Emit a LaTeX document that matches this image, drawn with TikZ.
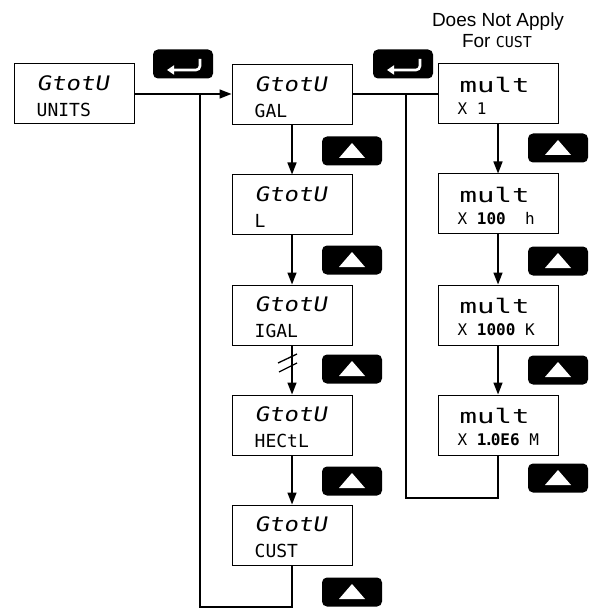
\documentclass[tikz,border=0pt]{standalone}
\usepackage{fontspec}
\setmainfont{Liberation Sans}
\newfontfamily\lcdA[FakeStretch=1.2,FakeSlant=0.18]{DejaVu Sans Mono}
\newfontfamily\lcdM[FakeStretch=1.45]{DejaVu Sans Mono}
\newfontfamily\lcdB{DejaVu Sans Mono}
\usetikzlibrary{arrows.meta}
\tikzset{
  lcd/.style={draw, line width=1pt, minimum width=120pt, minimum height=60pt, inner sep=0pt, fill=white},
  lcdtop/.style={anchor=base west, inner sep=0pt, font=\lcdA\fontsize{20}{20}\selectfont},
  lcdbot/.style={anchor=base west, inner sep=0pt, font=\lcdB\fontsize{18}{18}\selectfont},
  multtop/.style={anchor=base west, inner sep=0pt, font=\lcdM\fontsize{20}{20}\selectfont},
  multbot/.style={anchor=base west, inner sep=0pt, font=\lcdB\fontsize{16}{16}\selectfont},
  flow/.style={line width=1.6pt},
  arr/.style={flow, -{Triangle[length=12pt,width=9pt]}},
  keybtn/.style={fill=black, rounded corners=5pt, minimum width=60pt, minimum height=29pt, inner sep=0pt},
  note/.style={inner sep=0pt, anchor=base, font=\fontsize{19}{19}\selectfont},
}
\newcommand{\lcdbox}[5]{%
  \node[lcd] (#1) at (#2,#3) {};
  \node[lcdtop] (#1-a) at ([shift={(23,27)}]#1.north west) {#4};
  \node[lcdbot] (#1-b) at ([shift={(23,53)}]#1.north west) {#5};
}
\newcommand{\multbox}[5]{%
  \node[lcd] (#1) at (#2,#3) {};
  \node[multtop] (#1-a) at ([shift={(22,29)}]#1.north west) {#4};
  \node[multbot] (#1-b) at ([shift={(20,51)}]#1.north west) {#5};
}
\newcommand{\upkey}[3]{%
  \node[keybtn] (#1) at (#2,#3) {};
  \fill[white] ([shift={(-13,7)}]#1.center) -- ([shift={(13,7)}]#1.center) -- ([shift={(0,-8)}]#1.center) -- cycle;
}
\newcommand{\enterkey}[3]{%
  \node[keybtn] (#1) at (#2,#3) {};
  \draw[white, line width=2.6pt, rounded corners=4pt, -{Triangle[length=7pt,width=9pt]}]
    ([shift={(17,-5)}]#1.center) -- ([shift={(17,6)}]#1.center) -- ([shift={(-16,6)}]#1.center);
}
\begin{document}
\begin{tikzpicture}[x=1pt, y=-1pt]
\useasboundingbox (0,0) rectangle (599,609);

% title note
\node[note] (na) at (498,27) {Does Not Apply};
\node[note] (nb) at (497,48) {For {\lcdB\fontsize{15}{15}\selectfont CUST}};

% boxes
\lcdbox{units}{74}{94}{GtotU}{UNITS}
\lcdbox{gal}{292}{95}{GtotU}{GAL}
\lcdbox{lit}{292}{205}{GtotU}{L}
\lcdbox{igal}{292}{315}{GtotU}{IGAL}
\lcdbox{hectl}{292}{425}{GtotU}{HECtL}
\lcdbox{cust}{292}{535}{GtotU}{CUST}

\multbox{m1}{498}{94}{mult}{X 1}
\multbox{m2}{498}{204}{mult}{X {\bfseries 100}\ \ h}
\multbox{m3}{498}{315}{mult}{X {\bfseries 1000} K}
\multbox{m4}{498}{425}{mult}{X {\bfseries 1\kern-2.5pt.\kern-3pt0E6} M}

% keys
\enterkey{e1}{183}{64}
\enterkey{e2}{403}{64}
\upkey{u1}{352}{151}
\upkey{u2}{352}{260}
\upkey{u3}{352}{369}
\upkey{u4}{352}{481}
\upkey{u5}{352}{592}
\upkey{v1}{558}{148}
\upkey{v2}{558}{261}
\upkey{v3}{558}{370}
\upkey{v4}{558}{478}

% connectors
\coordinate (j1) at (200,94);
\coordinate (c1) at (200,607);
\coordinate (j2) at (406,94);
\coordinate (c2) at (406,498);

\draw[arr] (units.east) -- (gal.west |- units.east);
\draw[flow] (j1) -- (c1) -| (cust.south);
\draw[flow] (gal.east |- m1.west) -- (m1.west);
\draw[flow] (j2) -- (c2) -| (m4.south);

\draw[arr] (gal) -- (lit);
\draw[arr] (lit) -- (igal);
\draw[arr] (igal) -- (hectl);
\draw[arr] (hectl) -- (cust);
\draw[arr] (m1) -- (m2);
\draw[arr] (m2) -- (m3);
\draw[arr] (m3) -- (m4);

% break marks
\coordinate (brk) at (288,363);
\draw[line width=1.3pt] ([shift={(-10,0)}]brk) -- ([shift={(9,-9)}]brk);
\draw[line width=1.3pt] ([shift={(-9,9)}]brk) -- ([shift={(9,0)}]brk);
\end{tikzpicture}
\end{document}
